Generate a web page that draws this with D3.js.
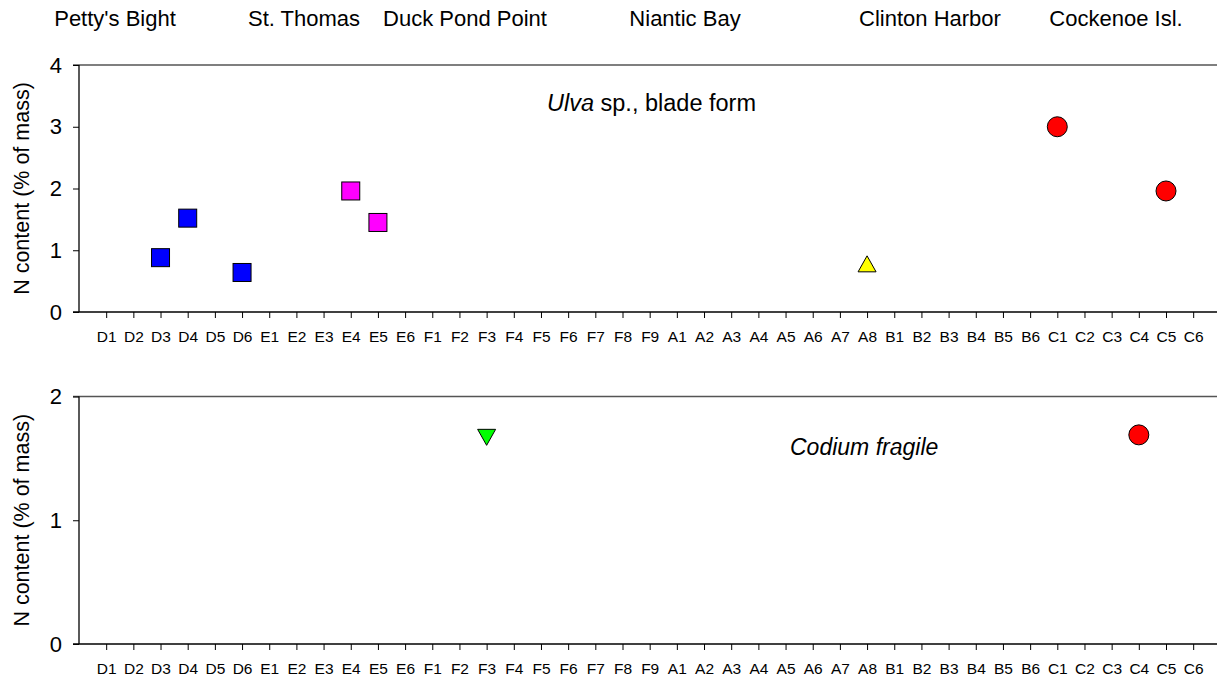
<!DOCTYPE html>
<html><head><meta charset="utf-8">
<script src="https://cdn.jsdelivr.net/npm/d3@7"></script>
<style>
body{margin:0;background:#fff;}
svg{display:block;font-family:Arial,"Liberation Sans",sans-serif;}
</style></head>
<body><svg id="c" width="1217" height="680"></svg>
<script>
// ---- data ----
const categories = ["D1","D2","D3","D4","D5","D6","E1","E2","E3","E4","E5","E6",
  "F1","F2","F3","F4","F5","F6","F7","F8","F9",
  "A1","A2","A3","A4","A5","A6","A7","A8",
  "B1","B2","B3","B4","B5","B6","C1","C2","C3","C4","C5","C6"];
const siteNames = ["Petty's Bight","St. Thomas","Duck Pond Point","Niantic Bay","Clinton Harbor","Cockenoe Isl."];

const ulvaPettysStations = ["D3","D4","D6"];
const ulvaPettysValues   = [0.88, 1.52, 0.64];
const ulvaThomasStations = ["E4","E5"];
const ulvaThomasValues   = [1.96, 1.45];
const ulvaClintonStations = ["A8"];
const ulvaClintonValues   = [0.78];
const ulvaCockenoeStations = ["C1","C5"];
const ulvaCockenoeValues   = [3.0, 1.96];

const codiumDuckStations = ["F3"];
const codiumDuckValues   = [1.67];
const codiumCockenoeStations = ["C4"];
const codiumCockenoeValues   = [1.69];

const ulvaTicks = [0,1,2,3,4];
const codiumTicks = [0,1,2];

// ---- layout ----
const svg = d3.select("#c");
const W = 1217;
const axisX0 = 79, step = 27.175;
const x = d3.scalePoint().domain(categories)
  .range([axisX0 + step, axisX0 + step*categories.length]);

function panel(top, bottom, yMax, ticks, series) {
  const y = d3.scaleLinear().domain([0, yMax]).range([bottom, top]);
  const g = svg.append("g");
  // top frame line
  g.append("line").attr("x1", 73).attr("x2", W).attr("y1", y(yMax)).attr("y2", y(yMax))
    .attr("stroke", "#555").attr("stroke-width", 1.6);
  // y axis
  const ya = g.append("g").attr("transform", `translate(${axisX0},0)`)
    .call(d3.axisLeft(y).tickValues(ticks).tickSize(6).tickPadding(11).tickFormat(d3.format("d")));
  ya.select(".domain").remove();
  ya.selectAll(".tick line").attr("stroke", "#000").attr("stroke-width", 1);
  ya.selectAll("text").attr("font-size", 22).attr("fill", "#000").attr("font-family", "Arial,'Liberation Sans',sans-serif");
  g.append("line").attr("x1", axisX0).attr("x2", axisX0).attr("y1", y(yMax)).attr("y2", bottom)
    .attr("stroke", "#000").attr("stroke-width", 1.3);
  // x axis
  const xa = g.append("g").attr("transform", `translate(0,${bottom})`)
    .call(d3.axisBottom(x).tickSize(6).tickPadding(13));
  xa.select(".domain").remove();
  xa.selectAll(".tick line").attr("stroke", "#000");
  xa.selectAll("text").attr("font-size", 15.5).attr("fill", "#000").attr("font-family", "Arial,'Liberation Sans',sans-serif");
  g.append("line").attr("x1", 73).attr("x2", W).attr("y1", bottom).attr("y2", bottom)
    .attr("stroke", "#000").attr("stroke-width", 1.3);
  // y title
  g.append("text").attr("transform", `translate(29,${(top+bottom)/2}) rotate(-90)`)
    .attr("text-anchor", "middle").attr("font-size", 21.5).attr("fill", "#000")
    .text("N content (% of mass)");
  // markers
  series.forEach(s => {
    s.stations.forEach((st, i) => {
      const cx = x(st), cy = y(s.values[i]);
      let el;
      if (s.shape === "square") {
        el = g.append("rect").attr("x", cx-9).attr("y", cy-9).attr("width", 18).attr("height", 18);
      } else if (s.shape === "circle") {
        el = g.append("circle").attr("cx", cx).attr("cy", cy).attr("r", 10);
      } else if (s.shape === "up") {
        el = g.append("path").attr("d", `M${cx-9},${cy+8}L${cx+9},${cy+8}L${cx},${cy-8}Z`);
      } else {
        el = g.append("path").attr("d", `M${cx-9},${cy-8}L${cx+9},${cy-8}L${cx},${cy+8}Z`);
      }
      el.attr("fill", s.color).attr("stroke", "#000").attr("stroke-width", 1);
    });
  });
  return y;
}

panel(65, 312, 4, ulvaTicks, [
  {stations: ulvaPettysStations, values: ulvaPettysValues, shape: "square", color: "#0000ff"},
  {stations: ulvaThomasStations, values: ulvaThomasValues, shape: "square", color: "#ff00ff"},
  {stations: ulvaClintonStations, values: ulvaClintonValues, shape: "up", color: "#ffff00"},
  {stations: ulvaCockenoeStations, values: ulvaCockenoeValues, shape: "circle", color: "#ff0000"}
]);
panel(396.5, 644, 2, codiumTicks, [
  {stations: codiumDuckStations, values: codiumDuckValues, shape: "down", color: "#00ff00"},
  {stations: codiumCockenoeStations, values: codiumCockenoeValues, shape: "circle", color: "#ff0000"}
]);

// site labels
const siteX = [115, 304, 465, 685, 930, 1116];
svg.selectAll("text.site").data(siteNames).enter().append("text")
  .attr("class", "site").attr("x", (d,i) => siteX[i]).attr("y", 26)
  .attr("text-anchor", "middle").attr("font-size", 22).attr("fill", "#000").text(d => d);

// annotations
const a1 = svg.append("text").attr("x", 547).attr("y", 111).attr("font-size", 23.5).attr("fill", "#000");
a1.append("tspan").attr("font-style", "italic").text("Ulva");
a1.append("tspan").text(" sp., blade form");
svg.append("text").attr("x", 790).attr("y", 455).attr("font-size", 23).attr("font-style", "italic")
  .attr("fill", "#000").text("Codium fragile");
</script>
</body></html>
